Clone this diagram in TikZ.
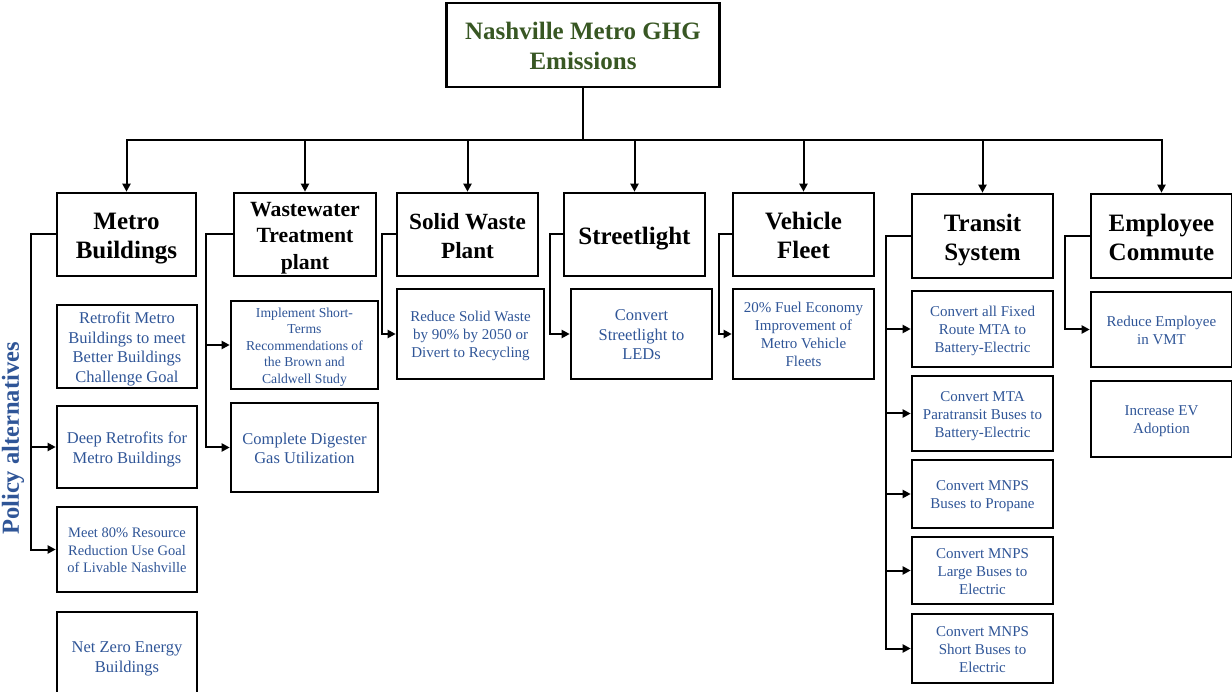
\documentclass[tikz,border=0pt]{standalone}
\usepackage{fontspec}
\setmainfont{Liberation Serif}
\usepackage{tikz}
\usetikzlibrary{arrows.meta,positioning}
\definecolor{ghggreen}{HTML}{385723}
\definecolor{altblue}{HTML}{2F5597}

\begin{document}
\begin{tikzpicture}[x = 1pt, y = -1pt]
	\tikzstyle{box} = [draw = black, line width = 2.6pt, inner sep = 0pt, align = flush center, text width = 136pt,
		execute at begin node = {\rule{0pt}{1em}}, execute at end node = {\rule[-0.22em]{0pt}{0pt}}]
	\tikzstyle{cat} = [box, minimum width = 141pt, minimum height = 83pt, font = \fontsize{25}{29}\selectfont\bfseries]
	\tikzstyle{alt} = [box, minimum width = 141pt, text = altblue, font = \fontsize{15}{18}\selectfont]
	\tikzstyle{altbig} = [alt, font = \fontsize{16.5}{19.5}\selectfont]
	\tikzstyle{link} = [line width = 2pt, -{Triangle[length = 8pt, width = 8pt]}]
	\tikzstyle{wire} = [line width = 2pt]

\useasboundingbox (0, 0) rectangle (1232, 692);

\node[box, minimum width = 273pt, minimum height = 84pt, text width = 260pt, text = ghggreen, font = \fontsize{25}{30}\selectfont\bfseries] (top) at (583, 45) {Nashville Metro GHG\\Emissions};
\coordinate (bus) at (583, 140);

\node[cat, minimum width = 139pt] (mb) at (126.5, 234.5) {Metro\\Buildings};
\node[cat, minimum width = 142pt, font = \fontsize{21.7}{26.5}\selectfont\bfseries] (ww) at (305, 234.5) {Wastewater\\Treatment\\plant};
\node[cat, font = \fontsize{23.2}{29}\selectfont\bfseries] (sw) at (467.5, 234.5) {Solid Waste\\Plant};
\node[cat] (sl) at (634.5, 234.5) {Streetlight};
\node[cat] (vf) at (803.5, 234.5) {Vehicle\\Fleet};
\node[cat, minimum height = 84pt] (ts) at (982.5, 236) {Transit\\System};
\node[cat, minimum height = 84pt] (ec) at (1161.5, 236) {Employee\\Commute};

\node[altbig, minimum width = 140pt, minimum height = 83pt] (rf) at (127, 346.5) {Retrofit Metro\\Buildings to meet\\Better Buildings\\Challenge Goal};
\node[altbig, minimum width = 140pt, minimum height = 82pt] (dr) at (127, 447) {Deep Retrofits for\\Metro Buildings};
\node[alt, minimum width = 140pt, minimum height = 85pt, font = \fontsize{14.5}{17.5}\selectfont] (m80) at (127, 549.5) {Meet 80\% Resource\\Reduction Use Goal\\of Livable Nashville};
\node[altbig, minimum width = 140pt, minimum height = 88pt] (nz) at (127, 656) {Net Zero Energy\\Buildings};

\node[alt, minimum width = 147pt, minimum height = 88pt, text width = 142pt, font = \fontsize{13.7}{16.5}\selectfont] (im) at (304.5, 345) {Implement Short-\\Terms\\Recommendations of\\the Brown and\\Caldwell Study};
\node[altbig, minimum width = 147pt, minimum height = 89pt, text width = 142pt] (cd) at (304.5, 447.5) {Complete Digester\\Gas Utilization};

\node[alt, minimum width = 147pt, minimum height = 90pt, text width = 142pt] (rs) at (470.5, 334) {Reduce Solid Waste\\by 90\% by 2050 or\\Divert to Recycling};
\node[altbig, minimum height = 90pt] (cs) at (641.5, 334) {Convert\\Streetlight to\\LEDs};
\node[alt, minimum height = 90pt] (fe) at (803.5, 334) {20\% Fuel Economy\\Improvement of\\Metro Vehicle\\Fleets};

\node[alt, minimum height = 76pt] (t1) at (982.5, 329) {Convert all Fixed\\Route MTA to\\Battery-Electric};
\node[alt, minimum height = 75pt] (t2) at (982.5, 413.5) {Convert MTA\\Paratransit Buses to\\Battery-Electric};
\node[alt, minimum height = 68pt] (t3) at (982.5, 494) {Convert MNPS\\Buses to Propane};
\node[alt, minimum height = 67pt] (t4) at (982.5, 570.5) {Convert MNPS\\Large Buses to\\Electric};
\node[alt, minimum height = 69pt] (t5) at (982.5, 648.5) {Convert MNPS\\Short Buses to\\Electric};

\node[alt, minimum height = 75pt] (e1) at (1161.5, 329.5) {Reduce Employee\\in VMT};
\node[alt, minimum height = 76pt] (e2) at (1161.5, 419) {Increase EV\\Adoption};

\node[rotate = 90, text = altblue, font = \fontsize{24.5}{29}\selectfont\bfseries] (pa) at (13, 438.5) {Policy alternatives};

	\path[draw, wire] (top.south) -- (bus);
	\path[draw, link] (bus) -| (mb);
	\path[draw, link] (bus) -| (ww);
	\path[draw, link] (bus) -| (sw);
	\path[draw, link] (bus) -| (sl);
	\path[draw, link] (bus) -| (vf);
	\path[draw, link] (bus) -| (ts);
	\path[draw, link] (bus) -| (ec);

	\path[draw, link] (mb.west) -- ++(-25, 0) |- (dr);
	\path[draw, link] (mb.west) -- ++(-25, 0) |- (m80);
	\path[draw, link] (ww.west) -- ++(-27, 0) |- (im);
	\path[draw, link] (ww.west) -- ++(-27, 0) |- (cd);
	\path[draw, link] (sw.west) -- ++(-14, 0) |- (rs);
	\path[draw, link] (sl.west) -- ++(-13, 0) |- (cs);
	\path[draw, link] (vf.west) -- ++(-13, 0) |- (fe);
	\path[draw, link] (ts.west) -- ++(-25, 0) |- (t1);
	\path[draw, link] (ts.west) -- ++(-25, 0) |- (t2);
	\path[draw, link] (ts.west) -- ++(-25, 0) |- (t3);
	\path[draw, link] (ts.west) -- ++(-25, 0) |- (t4);
	\path[draw, link] (ts.west) -- ++(-25, 0) |- (t5);
	\path[draw, link] (ec.west) -- ++(-25, 0) |- (e1);
\end{tikzpicture}
\end{document}
